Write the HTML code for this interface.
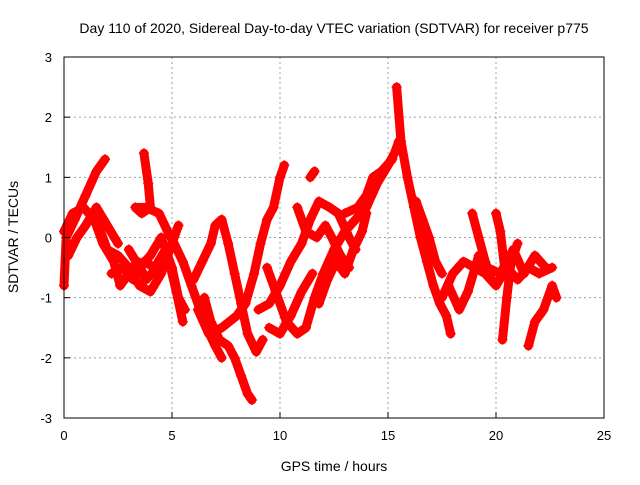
<!DOCTYPE html>
<html><head><meta charset="utf-8"><style>
body{margin:0;background:#fff}
svg text{font-family:"Liberation Sans",sans-serif;fill:#000}
</style></head><body>
<svg id="chart" width="640" height="480" xmlns="http://www.w3.org/2000/svg">
<text x="334" y="33" font-size="14" text-anchor="middle">Day 110 of 2020, Sidereal Day-to-day VTEC variation (SDTVAR) for receiver p775</text>
<text x="334" y="471" font-size="14" text-anchor="middle">GPS time / hours</text>
<text x="18" y="237" font-size="14" text-anchor="middle" transform="rotate(-90 18 237)">SDTVAR / TECUs</text>
<g id="grid"></g>
<g id="marks"></g>
<rect x="64" y="57" width="540" height="361" fill="none" stroke="#000" stroke-width="1"/>
<g id="ticks"></g>
</svg>
<script>
const xTicks=[0,5,10,15,20,25];
const yTicks=[-3,-2,-1,0,1,2,3];
const arc1=[[0,-0.8],[0.1,0],[0.5,0.3],[1,0.7],[1.5,1.1],[1.9,1.3]];
const arc2=[[0,0.1],[0.4,0.4],[0.9,0.5],[1.4,0.3],[1.8,-0.1],[2.3,-0.4],[2.6,-0.8],[3.0,-0.6],[3.4,-0.4],[3.8,-0.7],[4.3,-0.5],[4.8,-0.3],[5.2,-0.9],[5.5,-1.4]];
const arc3=[[1.6,0.2],[2.0,-0.2],[2.5,-0.3],[3.0,-0.5],[3.5,-0.8],[4.0,-0.9],[4.5,-0.6],[5.0,-0.1],[5.3,0.2]];
const arc4=[[3.7,1.4],[3.9,0.9],[4.0,0.5],[3.6,0.4],[3.3,0.5],[3.8,0.5],[4.4,0.4],[4.8,0.1],[5.1,-0.1],[5.5,-0.4],[5.9,-0.8],[6.3,-1.2],[6.6,-1.5],[7.0,-1.8],[7.3,-2.0]];
const arc5=[[6.0,-0.7],[6.4,-0.4],[6.8,-0.1],[7.0,0.2],[7.3,0.3],[7.6,-0.1],[7.9,-0.6],[8.2,-1.1],[8.5,-1.6],[8.9,-1.9],[9.2,-1.7]];
const arc6=[[6.5,-1.0],[6.8,-1.4],[7.2,-1.7],[7.6,-1.8],[7.9,-2.0],[8.2,-2.3],[8.5,-2.6],[8.7,-2.7]];
const arc7=[[6.2,-1.2],[6.7,-1.6],[7.3,-1.5],[8.0,-1.3],[8.4,-1.1],[8.8,-0.6],[9.1,-0.1],[9.4,0.3],[9.7,0.5],[10.0,1.0],[10.2,1.2]];
const arc8=[[9.4,-0.5],[9.8,-0.9],[10.3,-1.4],[10.8,-1.6],[11.2,-1.5],[11.6,-1.0],[12.0,-0.6],[12.5,-0.2],[13.0,0.1],[13.5,0.3],[14,0.5],[14.5,0.9],[15,1.2],[15.3,1.4],[15.5,1.6]];
const arc9=[[9.0,-1.2],[9.5,-1.1],[10.0,-0.8],[10.5,-0.4],[11.0,-0.1],[11.4,0.3],[11.8,0.6],[12.3,0.5],[12.7,0.4],[13.2,0.0],[13.5,-0.2]];
const arc10=[[10.8,0.5],[11.2,0.1],[11.7,0.0],[12.1,0.2],[12.4,0.0],[12.8,-0.3],[13.2,-0.5]];
const arc11=[[11.4,1.0],[11.6,1.1]];
const arc12=[[15.4,2.5],[15.6,1.6],[15.9,1.0],[16.2,0.5],[16.5,0],[16.8,-0.4],[17.1,-0.8],[17.4,-1.1],[17.7,-1.3],[17.9,-1.6]];
const arc13=[[16.3,0.6],[16.6,0.3],[16.9,0.0],[17.2,-0.4],[17.5,-0.6]];
const arc14=[[17.5,-1.0],[18.0,-0.6],[18.5,-0.4],[19.0,-0.5],[19.5,-0.6],[20,-0.8],[20.5,-0.5],[21,-0.7],[21.5,-0.5],[22,-0.6],[22.6,-0.5]];
const arc15=[[18.9,0.4],[19.2,0.0],[19.5,-0.4],[19.8,-0.7]];
const arc16=[[20.3,-1.7],[20.5,-1.0],[20.7,-0.4],[21.0,-0.1]];
const arc17=[[21.5,-1.8],[21.8,-1.4],[22.2,-1.2],[22.6,-0.8],[22.8,-1.0]];
const arc18=[[20.0,0.4],[20.2,0.1],[20.4,-0.5]];
const arc19=[[13.0,0.4],[13.6,0.5],[14.0,0.7],[14.3,1.0],[14.7,1.1],[15.2,1.3]];
const arc20=[[0.2,-0.3],[0.6,0.0],[1.0,0.2],[1.5,0.5],[2.0,0.2],[2.5,-0.1]];
const arc21=[[3.0,-0.2],[3.5,-0.5],[4.0,-0.3],[4.5,0.0],[5.0,-0.5],[5.3,-1.0],[5.6,-1.2]];
const arc22=[[11.8,-1.1],[12.2,-0.7],[12.6,-0.4],[13.0,-0.6],[13.4,-0.2],[13.8,0.1],[14.0,0.4]];
const arc23=[[17.8,-0.8],[18.3,-1.2],[18.7,-0.9],[19.2,-0.3],[19.6,-0.5],[20.2,-0.6],[20.8,-0.2],[21.3,-0.6],[21.8,-0.3],[22.3,-0.5]];
const arc24=[[9.5,-1.5],[10.0,-1.6],[10.5,-1.3],[11.0,-0.9],[11.5,-0.6]];
const arc25=[[2.2,-0.6],[2.7,-0.5],[3.2,-0.7],[3.7,-0.4],[4.2,-0.5],[4.7,-0.2]];
const arcs=[arc1,arc2,arc3,arc4,arc5,arc6,arc7,arc8,arc9,arc10,arc11,arc12,arc13,arc14,arc15,arc16,arc17,arc18,arc19,arc20,arc21,arc22,arc23,arc24,arc25];
const X=h=>64+h*(540/25);
const Y=v=>237.5-v*(361/6);
const NS='http://www.w3.org/2000/svg';
const grid=document.getElementById('grid'),ticks=document.getElementById('ticks'),marks=document.getElementById('marks');
function mk(tag,at,parent){const e=document.createElementNS(NS,tag);for(const k in at)e.setAttribute(k,at[k]);parent.appendChild(e);return e;}
xTicks.forEach(t=>{
  if(t>0&&t<25){const g=mk('line',{x1:X(t),x2:X(t),y1:57,y2:418,stroke:'#a0a0a0','stroke-dasharray':'2,3'},grid);
  
  }
  const l=mk('text',{x:X(t),y:440,'font-size':13,'text-anchor':'middle'},ticks);l.textContent=t;
  
  
  mk('line',{x1:X(t),x2:X(t),y1:418,y2:412,stroke:'#000'},ticks);
});
yTicks.forEach(t=>{
  if(t>-3&&t<3){const g=mk('line',{x1:64,x2:604,y1:Y(t),y2:Y(t),stroke:'#a0a0a0','stroke-dasharray':'2,3'},grid);
  
  }
  const l=mk('text',{x:52,y:Y(t)+5,'font-size':13,'text-anchor':'end'},ticks);l.textContent=t;
  
  
  mk('line',{x1:64,x2:70,y1:Y(t),y2:Y(t),stroke:'#000'},ticks);
});
arcs.forEach(a=>{
  const p=mk('polyline',{points:a.map(d=>X(d[0])+','+Y(d[1])).join(' '),fill:'none',stroke:'#ff0000','stroke-width':9,'stroke-linejoin':'round','stroke-linecap':'round'},marks);
  
  
  a.forEach(d=>{
    const m=mk('path',{d:`M${X(d[0])-5},${Y(d[1])}h10M${X(d[0])},${Y(d[1])-5}v10`,stroke:'#ff0000','stroke-width':1.5},marks);
    
    
  });
});
</script>
</body></html>
